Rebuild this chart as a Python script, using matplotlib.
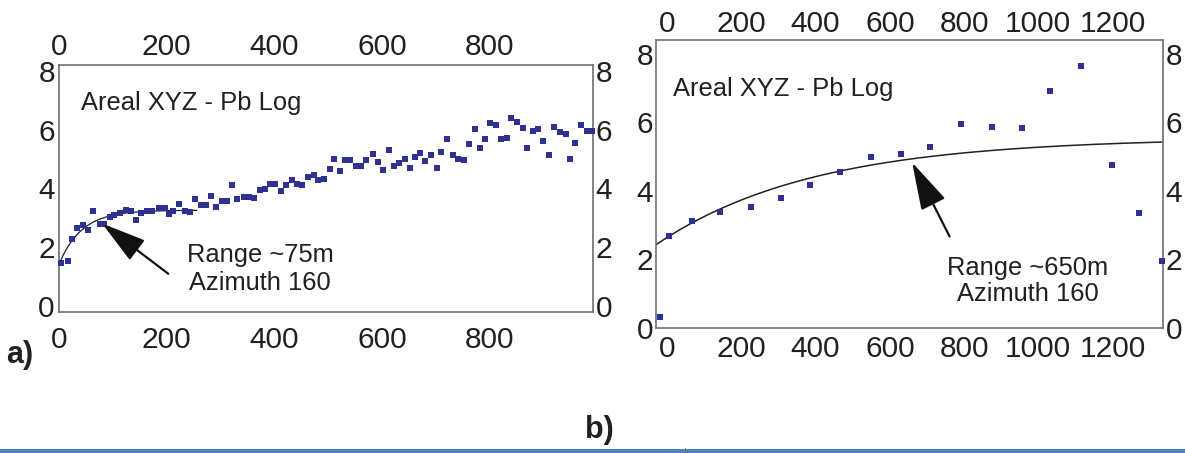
import numpy as np
import matplotlib

matplotlib.use('Agg')
import matplotlib.pyplot as plt
from matplotlib.patches import Rectangle

plt.rcParams['font.family'] = ['Liberation Sans', 'DejaVu Sans']
TICK_SIZE = 21.5

# panel a: experimental variogram points (lag m, gamma)
lag_a = [4, 16, 25, 34, 44, 53, 63, 76, 83, 95, 103, 113, 125, 133, 143, 152, 164, 173,
         186, 196, 204, 212, 222, 234, 244, 253, 263, 274, 283, 292, 303, 312, 322, 331,
         343, 353, 363, 373, 383, 392, 402, 413, 422, 432, 442, 452, 462, 473, 482, 492,
         503, 511, 522, 532, 541, 551, 561, 571, 583, 592, 601, 613, 622, 631, 643, 652,
         662, 671, 680, 691, 702, 710, 720, 732, 742, 752, 762, 772, 782, 792, 801, 811,
         822, 832, 840, 851, 862, 870, 881, 890, 900, 911, 920, 931, 941, 950, 959, 969,
         980, 990]
gam_a = [1.45, 1.53, 2.28, 2.67, 2.76, 2.60, 3.23, 2.80, 2.80, 3.02, 3.09, 3.17, 3.26, 3.24,
         2.92, 3.17, 3.24, 3.24, 3.33, 3.33, 3.13, 3.24, 3.47, 3.24, 3.20, 3.63, 3.44, 3.44,
         3.74, 3.36, 3.58, 3.58, 4.11, 3.64, 3.70, 3.70, 3.67, 3.94, 3.98, 4.15, 4.15, 3.91,
         4.11, 4.28, 4.15, 4.11, 4.39, 4.45, 4.28, 4.32, 4.66, 5.00, 4.59, 4.97, 4.97, 4.76,
         4.76, 4.97, 5.17, 4.90, 4.63, 5.31, 4.76, 4.86, 5.00, 4.69, 5.07, 5.20, 4.93, 5.14,
         4.69, 5.24, 5.68, 5.14, 5.00, 4.97, 5.51, 6.02, 5.38, 5.68, 6.23, 6.16, 5.68, 5.72,
         6.40, 6.26, 6.06, 5.38, 5.95, 6.02, 5.61, 5.14, 6.09, 5.92, 5.85, 5.00, 5.55, 6.16,
         5.95, 5.95]

# panel b
lag_b = [-18, 6, 66, 143, 225, 307, 385, 467, 548, 629, 709, 791, 874, 957, 1032, 1116,
         1200, 1271, 1333]
gam_b = [0.31, 2.69, 3.11, 3.39, 3.54, 3.80, 4.18, 4.55, 4.99, 5.08, 5.28, 5.95, 5.86,
         5.83, 6.91, 7.64, 4.76, 3.36, 1.94]

# fitted models (nugget, partial sill, length), start / end of drawn curve
model_a = (1.42, 1.84, 42.0, 0, 256)
model_b = (2.43, 3.12, 425.0, -30, 1336)

TXT = '#231f20'
PTS = '#2e3192'


def model_curve(nug, sill, length, x0, x1):
    h = np.linspace(x0, x1, 300)
    return h, nug + sill * (1 - np.exp(-(h - x0) / length))


def setup(ax, xlim, ylim, xt, yt, pads):
    ax.set_xlim(*xlim)
    ax.set_ylim(*ylim)
    ax.set_xticks(xt)
    ax.set_yticks(yt)
    for s in ax.spines.values():
        s.set_color('#6d6e71')
        s.set_linewidth(1.2)
    ax.tick_params(length=0, labelsize=TICK_SIZE, labelcolor=TXT)
    ax.tick_params(axis='x', pad=pads[0])
    ax.tick_params(axis='y', pad=pads[2])
    top = ax.secondary_xaxis('top')
    top.set_xticks(xt)
    top.tick_params(length=0, labelsize=TICK_SIZE, labelcolor=TXT, pad=pads[1])
    right = ax.secondary_yaxis('right')
    right.set_yticks(yt)
    right.tick_params(length=0, labelsize=TICK_SIZE, labelcolor=TXT, pad=pads[3])
    for sa in (top, right):
        for s in sa.spines.values():
            s.set_visible(False)


fig = plt.figure(figsize=(11.85, 4.53), dpi=100)
axa = fig.add_axes([0.0498, 0.3113, 0.4506, 0.5453])
axb = fig.add_axes([0.5536, 0.2759, 0.4278, 0.6358])

# ---- panel a
setup(axa, (0, 992), (-0.2, 8.2), [0, 200, 400, 600, 800], [0, 2, 4, 6, 8], (10, 2.5, 3, 2))
axa.plot(lag_a, gam_a, 's', color=PTS, ms=4.4, mew=0, clip_on=False, zorder=3)
h, g = model_curve(*model_a)
axa.plot(h, g, color='#231f20', lw=0.9, zorder=2)
axa.text(40, 6.9, 'Areal XYZ - Pb Log', fontsize=18.4, color=TXT, va='center')
axa.text(374, 1.25, 'Range ~75m\nAzimuth 160', fontsize=18.4, color=TXT, ha='center',
         va='center', linespacing=1.2)
axa.annotate('', xy=(80, 2.81), xytext=(203, 1.10),
             arrowprops=dict(arrowstyle='-|>,head_length=1.0,head_width=0.28', color='#111111',
                             lw=1.6, mutation_scale=28, shrinkA=0, shrinkB=0))

# ---- panel b
setup(axb, (-30, 1336), (0, 8.4), [0, 200, 400, 600, 800, 1000, 1200], [0, 2, 4, 6, 8],
      (5, 1.5, 2, 2))
axb.plot(lag_b, gam_b, 's', color=PTS, ms=3.8, mew=0, clip_on=False, zorder=3)
h, g = model_curve(*model_b)
axb.plot(h, g, color='#231f20', lw=1.1, zorder=2)
axb.text(15, 6.96, 'Areal XYZ - Pb Log', fontsize=18.4, color=TXT, va='center')
axb.text(971, 1.38, 'Range ~650m\nAzimuth 160', fontsize=18.4, color=TXT, ha='center',
         va='center', linespacing=1.1)
axb.annotate('', xy=(660, 4.83), xytext=(761, 2.67),
             arrowprops=dict(arrowstyle='-|>,head_length=1.0,head_width=0.28', color='#111111',
                             lw=1.6, mutation_scale=30, shrinkA=0, shrinkB=0))

fig.text(0.017, 0.216, 'a)', fontsize=22, fontweight='bold', color=TXT, ha='center', va='center')
fig.text(0.506, 0.051, 'b)', fontsize=22, fontweight='bold', color=TXT, ha='center', va='center')

# page border line under the figure
fig.add_artist(Rectangle((0, 0), 1, 4 / 453, transform=fig.transFigure, color='#4f81bd', lw=0))
fig.add_artist(Rectangle((685 / 1185, 0), 1 / 1185, 5 / 453, transform=fig.transFigure,
                         color='#777777', lw=0))

fig.savefig('out.png', dpi=100)
